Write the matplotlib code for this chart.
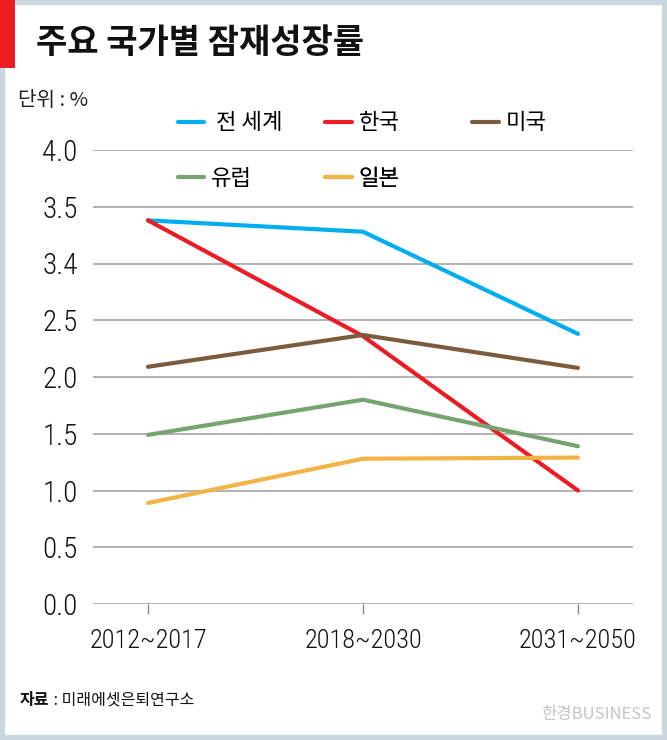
import matplotlib
matplotlib.use('Agg')
import matplotlib.pyplot as plt
from matplotlib.patches import Rectangle

# data
periods = ['2012~2017', '2018~2030', '2031~2050']
world = [3.38, 3.28, 2.38]
korea = [3.38, 2.36, 1.0]
usa = [2.09, 2.37, 2.08]
europe = [1.49, 1.80, 1.39]
japan = [0.89, 1.28, 1.29]
yticks = [0.0, 0.5, 1.0, 1.5, 2.0, 2.5, 3.0, 3.5, 4.0]
ytick_labels = ['0.0', '0.5', '1.0', '1.5', '2.0', '2.5', '3.4', '3.5', '4.0']

kr = 'Noto Sans CJK KR'
num_font = ['Roboto Condensed', 'DejaVu Sans']

fig = plt.figure(figsize=(6.67, 7.40), dpi=100)
fig.patch.set_facecolor('white')

# frame + red mark
fig.patches.append(Rectangle((0, 0), 1, 1, transform=fig.transFigure, fill=False,
                             edgecolor='#cbd7df', linewidth=7.5, zorder=0))
fig.patches.append(Rectangle((0, 1 - 68 / 740), 15 / 667, 68 / 740, transform=fig.transFigure,
                             facecolor='#ed1c24', edgecolor='none', zorder=1))

ax = fig.add_axes([93 / 667, 136 / 740, 540 / 667, 454 / 740])
x = range(len(periods))
series = [
    (' 전 세계', world, '#00aeef'),
    ('한국', korea, '#ed1c24'),
    ('미국', usa, '#7b5c3e'),
    ('유럽', europe, '#76a36f'),
    ('일본', japan, '#f2b347'),
]
lines = []
for name, vals, col in series:
    ln, = ax.plot(x, vals, color=col, lw=3, solid_capstyle='round', zorder=3, clip_on=False)
    lines.append(ln)

ax.set_xlim(-0.256, 2.256)
ax.set_ylim(0, 4.0)
ax.set_yticks(yticks)
ax.set_yticklabels(ytick_labels, family=num_font, fontsize=21, fontweight=300)
ax.set_xticks(list(x))
ax.set_xticklabels(periods, family=num_font, fontsize=19, fontweight=300)
ax.grid(axis='y', color='#a6a6a6', lw=1.2)
ax.set_axisbelow(True)
for s in ax.spines.values():
    s.set_visible(False)
ax.tick_params(axis='y', length=0, pad=11, colors='#111111')
ax.tick_params(axis='x', length=7, width=1, color='#888888', pad=11, labelcolor='#111111')

# legend, one entry per slot
pos = [(0.157, 1.0595), (0.430, 1.0595), (0.702, 1.0595), (0.157, 0.938), (0.430, 0.938)]
for ln, (name, _, _), (px, py) in zip(lines, series, pos):
    leg = ax.legend([ln], [name], loc='center left', bbox_to_anchor=(px, py), frameon=False,
                    prop={'family': kr, 'size': 16}, handlelength=1.2, handletextpad=0.3,
                    borderpad=0, borderaxespad=0)
    ax.add_artist(leg)

fig.text(36 / 667, 1 - 42 / 740, '주요 국가별 잠재성장률', family=kr, fontsize=24.5,
         fontweight='bold', va='center', ha='left', color='#111111')
fig.text(18 / 667, 1 - 100 / 740, '단위 : %', family=kr, fontsize=14.5, va='center', color='#222222')
src = fig.text(20 / 667, 1 - 700 / 740, '자료', family=kr, fontsize=11.5, fontweight='bold',
               va='center', color='#111111')
ax.annotate(' : 미래에셋은퇴연구소', xy=(1, 0.5), xycoords=src, va='center', ha='left',
            family=kr, fontsize=11.5, color='#111111', annotation_clip=False)
fig.text(651 / 667, 1 - 715 / 740, '한경BUSINESS', family=[kr], fontsize=12, va='center',
         ha='right', color='#c4c4c4')

fig.savefig('out.png', dpi=100)
